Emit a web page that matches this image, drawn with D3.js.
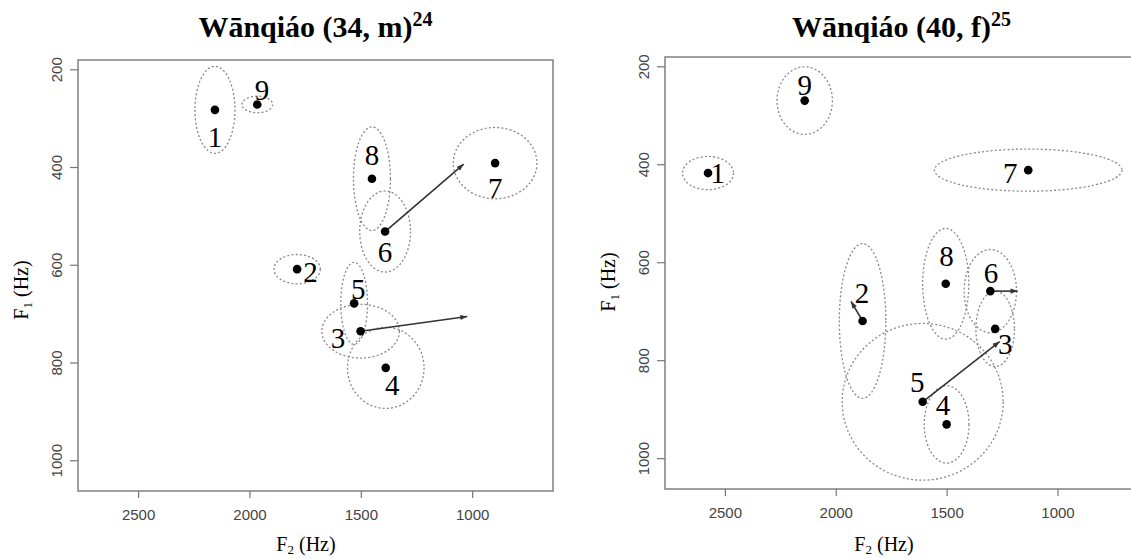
<!DOCTYPE html>
<html>
<head>
<meta charset="utf-8">
<script src="https://cdn.jsdelivr.net/npm/d3@7"></script>
<style>
  body { margin: 0; background: #fff; }
  svg { display: block; }
</style>
</head>
<body>
<svg id="chart" width="1131" height="559"></svg>
<script>
// vowel numbers, same order in every array below
const vowels = ['1', '2', '3', '4', '5', '6', '7', '8', '9']
const xTicks = [2500, 2000, 1500, 1000]
const yTicks = [200, 400, 600, 800, 1000]

// Wānqiáo (34, m)
const maleF2 = [2155, 1786, 1501, 1388, 1530, 1391, 897, 1450, 1965]
const maleF1 = [283, 609, 736, 811, 679, 532, 392, 424, 272]
const maleSdF2 = [90, 104, 174, 172, 60, 114, 188, 83, 69]
const maleSdF1 = [89, 30, 55, 83, 84, 83, 73, 106, 17]
const maleLabelF2 = [2155, 1726, 1602, 1359, 1512, 1391, 896, 1450, 1944]
const maleLabelF1 = [339, 614, 749, 846, 650, 574, 443, 375, 242]
const maleArrowFrom = ['6', '3']
const maleArrowF2 = [1038, 1022]
const maleArrowF1 = [394, 706]

// Wānqiáo (40, f)
const femaleF2 = [2576, 1879, 1281, 1500, 1608, 1303, 1132, 1504, 2140]
const femaleF1 = [418, 720, 736, 931, 885, 659, 412, 644, 270]
const femaleSdF2 = [115, 105, 87, 101, 363, 118, 423, 104, 125]
const femaleSdF1 = [34, 158, 77, 79, 160, 85, 43, 113, 69]
const femaleLabelF2 = [2532, 1882, 1236, 1516, 1632, 1300, 1213, 1501, 2140]
const femaleLabelF1 = [418, 663, 766, 892, 844, 622, 417, 588, 237]
const femaleArrowFrom = ['2', '5', '6']
const femaleArrowF2 = [1931, 1261, 1180]
const femaleArrowF1 = [680, 762, 659]

const svg = d3.select('#chart')

const serif = '"Liberation Serif", "Times New Roman", serif'
const sans = '"Liberation Sans", Arial, sans-serif'

const panels = [
    {
        title: 'Wānqiáo (34, m)', sup: '24',
        f2: maleF2, f1: maleF1, sd2: maleSdF2, sd1: maleSdF1,
        l2: maleLabelF2, l1: maleLabelF1,
        af: maleArrowFrom, a2: maleArrowF2, a1: maleArrowF1,
        box: [78, 553, 60, 491], xlabX: 306, ylabY: 290
    },
    {
        title: 'Wānqiáo (40, f)', sup: '25',
        f2: femaleF2, f1: femaleF1, sd2: femaleSdF2, sd1: femaleSdF1,
        l2: femaleLabelF2, l1: femaleLabelF1,
        af: femaleArrowFrom, a2: femaleArrowF2, a1: femaleArrowF1,
        box: [665, 1138, 57, 489], xlabX: 884, ylabY: 282
    }
]

svg.append('defs')
    .append('marker')
    .attr('id', 'head')
    .attr('viewBox', '-8 -4 9 8')
    .attr('refX', 0)
    .attr('refY', 0)
    .attr('markerWidth', 9)
    .attr('markerHeight', 8)
    .attr('markerUnits', 'userSpaceOnUse')
    .attr('orient', 'auto')
    .append('path')
    .attr('d', 'M0,0L-7,-2.6L-7,2.6Z')
    .attr('fill', '#333')

panels.forEach((p, pi) => {
    const [x0, x1, y0, y1] = p.box
    const x = d3.scaleLinear().domain([2770, 637]).range([x0, x1])
    const y = d3.scaleLinear().domain([181, 1063]).range([y0, y1])

    const g = svg.append('g')

    // title
    const t = g.append('text')
        .attr('x', (x0 + x1) / 2)
        .attr('y', 37)
        .attr('text-anchor', 'middle')
        .attr('font-family', serif)
        .attr('font-weight', 'bold')
        .attr('font-size', 30)
        .text(p.title)
    t.append('tspan')
        .attr('dy', -11)
        .attr('font-size', 20)
        .text(p.sup)

    // axes
    const xAxis = g.append('g')
        .attr('transform', `translate(0,${y1})`)
        .call(d3.axisBottom(x).tickValues(xTicks).tickSize(7).tickSizeOuter(0).tickFormat(d3.format('d')))
    const yAxis = g.append('g')
        .attr('transform', `translate(${x0},0)`)
        .call(d3.axisLeft(y).tickValues(yTicks).tickSize(8).tickSizeOuter(0).tickFormat(d3.format('d')))

    ;[xAxis, yAxis].forEach((a) => {
        a.select('.domain').remove()
        a.selectAll('line').attr('stroke', '#777').attr('stroke-width', 1.2)
        a.selectAll('text')
            .attr('font-family', sans)
            .attr('font-size', 15)
            .attr('fill', '#444')
    })
    xAxis.selectAll('text').attr('y', 0).attr('dy', 0)
        .attr('transform', 'translate(0,29)')
    yAxis.selectAll('text')
        .attr('x', 0).attr('dy', 0)
        .attr('text-anchor', 'middle')
        .attr('transform', 'translate(-16,0) rotate(-90)')

    // frame
    g.append('rect')
        .attr('x', x0)
        .attr('y', y0)
        .attr('width', x1 - x0)
        .attr('height', y1 - y0)
        .attr('fill', 'none')
        .attr('stroke', '#777')
        .attr('stroke-width', 1.4)

    // axis titles
    const xl = g.append('text')
        .attr('x', p.xlabX)
        .attr('y', 551)
        .attr('text-anchor', 'middle')
        .attr('font-family', serif)
        .attr('font-size', 20)
        .text('F')
    xl.append('tspan').attr('font-size', 13).attr('dy', 3).text('2')
    xl.append('tspan').attr('dy', -3).text(' (Hz)')

    const yl = g.append('text')
        .attr('transform', `translate(${x0 - 50},${p.ylabY}) rotate(-90)`)
        .attr('text-anchor', 'middle')
        .attr('font-family', serif)
        .attr('font-size', 20)
        .text('F')
    yl.append('tspan').attr('font-size', 13).attr('dy', 4).text('1')
    yl.append('tspan').attr('dy', -4).text(' (Hz)')

    // plot area content clipped to frame
    const clipId = `clip${pi}`
    svg.select('defs').append('clipPath').attr('id', clipId)
        .append('rect')
        .attr('x', x0).attr('y', y0)
        .attr('width', x1 - x0).attr('height', y1 - y0)
    const plot = g.append('g').attr('clip-path', `url(#${clipId})`)

    const rows = vowels.map((v, i) => ({
        v, f2: p.f2[i], f1: p.f1[i], sd2: p.sd2[i], sd1: p.sd1[i],
        l2: p.l2[i], l1: p.l1[i]
    }))

    plot.selectAll('ellipse')
        .data(rows)
        .join('ellipse')
        .attr('cx', (d) => x(d.f2))
        .attr('cy', (d) => y(d.f1))
        .attr('rx', (d) => Math.abs(x(d.f2 + d.sd2) - x(d.f2)))
        .attr('ry', (d) => Math.abs(y(d.f1 + d.sd1) - y(d.f1)))
        .attr('fill', 'none')
        .attr('stroke', '#888')
        .attr('stroke-width', 1.3)
        .attr('stroke-dasharray', '2,2.2')

    const arrows = p.af.map((v, i) => {
        const k = vowels.indexOf(v)
        return { from: [p.f2[k], p.f1[k]], to: [p.a2[i], p.a1[i]] }
    })

    plot.selectAll('line.arrow')
        .data(arrows)
        .join('line')
        .attr('class', 'arrow')
        .attr('x1', (d) => x(d.from[0]))
        .attr('y1', (d) => y(d.from[1]))
        .attr('x2', (d) => x(d.to[0]))
        .attr('y2', (d) => y(d.to[1]))
        .attr('stroke', '#333')
        .attr('stroke-width', 1.6)
        .attr('marker-end', 'url(#head)')

    plot.selectAll('circle')
        .data(rows)
        .join('circle')
        .attr('cx', (d) => x(d.f2))
        .attr('cy', (d) => y(d.f1))
        .attr('r', 4.3)
        .attr('fill', '#000')

    plot.selectAll('text.vowel')
        .data(rows)
        .join('text')
        .attr('class', 'vowel')
        .attr('x', (d) => x(d.l2))
        .attr('y', (d) => y(d.l1))
        .attr('dy', '0.35em')
        .attr('text-anchor', 'middle')
        .attr('font-family', serif)
        .attr('font-size', 29)
        .text((d) => d.v)
})
</script>
</body>
</html>
